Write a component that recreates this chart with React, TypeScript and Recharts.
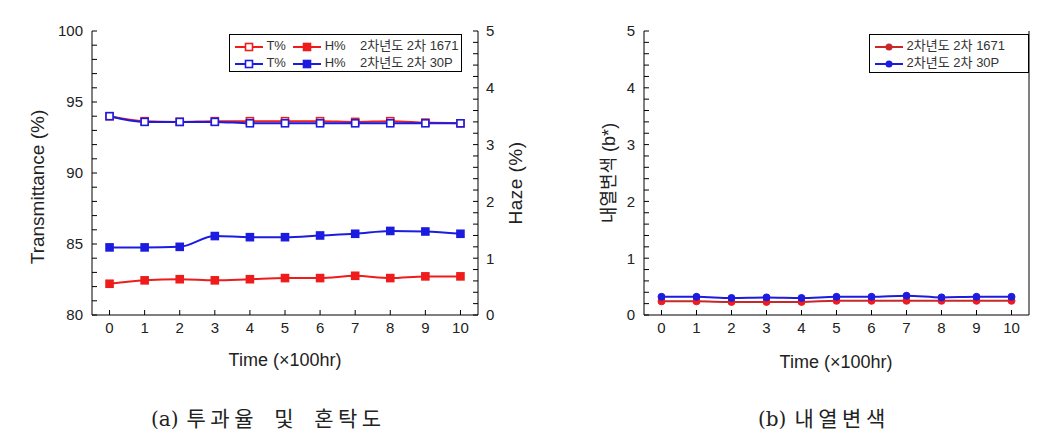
import { LineChart, Line, XAxis, YAxis } from "recharts";

// time in units of 100 hr
const times = [0, 1, 2, 3, 4, 5, 6, 7, 8, 9, 10];

// (a) transmittance (%) and haze (%)
const trans1671 = [94.0, 93.65, 93.6, 93.65, 93.65, 93.65, 93.65, 93.6, 93.65, 93.55, 93.5];
const trans30P = [94.0, 93.6, 93.6, 93.6, 93.5, 93.5, 93.5, 93.5, 93.5, 93.5, 93.5];
const haze1671 = [0.55, 0.61, 0.63, 0.61, 0.63, 0.65, 0.65, 0.69, 0.65, 0.68, 0.68];
const haze30P = [1.19, 1.19, 1.2, 1.39, 1.37, 1.37, 1.4, 1.43, 1.48, 1.47, 1.43];

// (b) heat discoloration (b*)
const color1671 = [0.24, 0.24, 0.23, 0.23, 0.23, 0.25, 0.25, 0.25, 0.25, 0.25, 0.25];
const color30P = [0.32, 0.32, 0.3, 0.31, 0.3, 0.32, 0.32, 0.34, 0.31, 0.32, 0.32];

const transTicks = Array.from({ length: 21 }, (_, i) => 80 + i);
const fiveTicks = Array.from({ length: 26 }, (_, i) => i / 5);

const leftData = times.map((t, i) => ({
  t,
  tRed: trans1671[i],
  tBlue: trans30P[i],
  hRed: haze1671[i],
  hBlue: haze30P[i],
}));
const rightData = times.map((t, i) => ({ t, red: color1671[i], blue: color30P[i] }));

const RED = "#ee1c1c";
const BLUE = "#1c1ce0";
const FONT = "'Liberation Sans', Arial, sans-serif";
const KFONT = "'Liberation Sans', 'Noto Sans CJK KR', sans-serif";
const SERIF = "'DejaVu Serif', 'Noto Sans CJK KR', serif";

const majorOnly = (step: number) => (v: number) =>
  Math.abs(v / step - Math.round(v / step)) < 1e-6 ? String(Math.round(v)) : "";

const squareDot = (stroke: string, fill: string) => (props: any) => {
  const { cx, cy, index } = props;
  if (cx == null || cy == null) return <g key={`e-${index}`} />;
  return (
    <rect key={`sq-${index}`} x={cx - 3.5} y={cy - 3.5} width={7} height={7}
      fill={fill} stroke={stroke} strokeWidth={1.6} />
  );
};

const tickStyle = { fill: "#222", fontSize: 15, fontFamily: FONT };

const LegendSwatch = ({ color, shape, filled }: { color: string; shape: "sq" | "dot"; filled: boolean }) => (
  <svg width={28} height={10} style={{ verticalAlign: "middle" }}>
    <line x1={0} y1={5} x2={28} y2={5} stroke={color} strokeWidth={2} />
    {shape === "sq" ? (
      <rect x={10.5} y={1.5} width={7} height={7} fill={filled ? color : "#fff"} stroke={color} strokeWidth={1.6} />
    ) : (
      <circle cx={14} cy={5} r={3.5} fill={color} />
    )}
  </svg>
);

const AxisTitle = ({ x, y, text, rotate, size = 18, spacing = 0 }: any) => (
  <div style={{
    position: "absolute", left: x, top: y, whiteSpace: "nowrap",
    transform: `translate(-50%, -50%)${rotate ? " rotate(-90deg)" : ""}`,
    fontFamily: KFONT, fontSize: size, color: "#222", letterSpacing: spacing, lineHeight: 1,
  }}>{text}</div>
);

const captionStyle = {
  position: "absolute" as const, top: 402, fontFamily: SERIF, fontSize: 20, color: "#222",
  whiteSpace: "pre" as const,
};
const hangulStyle = { fontSize: 21, letterSpacing: 4.5, wordSpacing: 5, marginLeft: 8 };

export default function App() {
  return (
    <div style={{ position: "absolute", left: 0, top: 0, width: 1050, height: 441, background: "#fff", overflow: "hidden" }}>
      {/* (a) transmittance & haze */}
      <div style={{ position: "absolute", left: 0, top: 0 }}>
        <LineChart width={540} height={380} data={leftData} margin={{ top: 31, right: 0, left: 0, bottom: 0 }}>
          <XAxis xAxisId="b" dataKey="t" type="number" domain={[-0.5, 10.5]} ticks={times} interval={0}
            tickSize={-5} tickMargin={12} height={65} stroke="#000" tick={tickStyle} />
          <XAxis xAxisId="top" orientation="top" dataKey="t" type="number" domain={[-0.5, 10.5]}
            tick={false} tickLine={false} height={0} stroke="#000" />
          <YAxis yAxisId="T" type="number" domain={[80, 100]} ticks={transTicks} interval={0}
            tickFormatter={majorOnly(5)} tickSize={-5} tickMargin={14} width={92} stroke="#000" tick={tickStyle} />
          <YAxis yAxisId="H" orientation="right" type="number" domain={[0, 5]} ticks={fiveTicks} interval={0}
            tickFormatter={majorOnly(1)} tickSize={-5} tickMargin={13} width={62} stroke="#000" tick={tickStyle} />
          <Line xAxisId="b" yAxisId="H" type="monotone" dataKey="hRed" stroke={RED} strokeWidth={2}
            dot={squareDot(RED, RED)} isAnimationActive={false} />
          <Line xAxisId="b" yAxisId="H" type="monotone" dataKey="hBlue" stroke={BLUE} strokeWidth={2}
            dot={squareDot(BLUE, BLUE)} isAnimationActive={false} />
          <Line xAxisId="b" yAxisId="T" type="monotone" dataKey="tRed" stroke={RED} strokeWidth={2}
            dot={squareDot(RED, "#fff")} isAnimationActive={false} />
          <Line xAxisId="b" yAxisId="T" type="monotone" dataKey="tBlue" stroke={BLUE} strokeWidth={2}
            dot={squareDot(BLUE, "#fff")} isAnimationActive={false} />
        </LineChart>
      </div>

      {/* (b) heat discoloration */}
      <div style={{ position: "absolute", left: 540, top: 0 }}>
        <LineChart width={510} height={380} data={rightData} margin={{ top: 31, right: 0, left: 0, bottom: 0 }}>
          <XAxis xAxisId="b" dataKey="t" type="number" domain={[-0.5, 10.5]} ticks={times} interval={0}
            tickSize={-5} tickMargin={12} height={65} stroke="#000" tick={tickStyle} />
          <XAxis xAxisId="top" orientation="top" dataKey="t" type="number" domain={[-0.5, 10.5]}
            tick={false} tickLine={false} height={0} stroke="#000" />
          <YAxis yAxisId="L" type="number" domain={[0, 5]} ticks={fiveTicks} interval={0}
            tickFormatter={majorOnly(1)} tickSize={-5} tickMargin={14} width={104} stroke="#000" tick={tickStyle} />
          <YAxis yAxisId="R" orientation="right" type="number" domain={[0, 5]}
            tick={false} tickLine={false} width={21} stroke="#000" />
          <Line xAxisId="b" yAxisId="L" type="monotone" dataKey="red" stroke="#c82828" strokeWidth={2}
            dot={{ r: 3.5, fill: RED, stroke: RED, strokeWidth: 1 }} isAnimationActive={false} />
          <Line xAxisId="b" yAxisId="L" type="monotone" dataKey="blue" stroke={BLUE} strokeWidth={2}
            dot={{ r: 3.5, fill: BLUE, stroke: BLUE, strokeWidth: 1 }} isAnimationActive={false} />
        </LineChart>
      </div>

      {/* legends */}
      <div style={{
        position: "absolute", left: 229, top: 34, width: 233, height: 38, boxSizing: "border-box",
        border: "1px solid #000", fontFamily: KFONT, fontSize: 13, color: "#333", lineHeight: "17px", padding: "2px 0 0 5px",
      }}>
        <div><LegendSwatch color={RED} shape="sq" filled={false} /> T%&nbsp;&nbsp;<LegendSwatch color={RED} shape="sq" filled /> H%&nbsp;&nbsp;&nbsp;&nbsp;2차년도 2차 1671</div>
        <div><LegendSwatch color={BLUE} shape="sq" filled={false} /> T%&nbsp;&nbsp;<LegendSwatch color={BLUE} shape="sq" filled /> H%&nbsp;&nbsp;&nbsp;&nbsp;2차년도 2차 30P</div>
      </div>
      <div style={{
        position: "absolute", left: 869, top: 34, width: 160, height: 39, boxSizing: "border-box",
        border: "1px solid #000", fontFamily: KFONT, fontSize: 13, color: "#333", lineHeight: "17px", padding: "2px 0 0 5px",
      }}>
        <div><LegendSwatch color="#c82828" shape="dot" filled /> 2차년도 2차 1671</div>
        <div><LegendSwatch color={BLUE} shape="dot" filled /> 2차년도 2차 30P</div>
      </div>

      {/* axis titles */}
      <AxisTitle x={37} y={187} text="Transmittance (%)" rotate size={19} />
      <AxisTitle x={515} y={183} text="Haze (%)" rotate size={19} spacing={0.5} />
      <AxisTitle x={609} y={173} text="내열변색 (b*)" rotate size={18} />
      <AxisTitle x={285} y={360} text="Time (×100hr)" size={18} />
      <AxisTitle x={836} y={362} text="Time (×100hr)" size={18} />

      {/* captions */}
      <div style={{ ...captionStyle, left: 151 }}>(a)<span style={hangulStyle}>투과율 및 혼탁도</span></div>
      <div style={{ ...captionStyle, left: 758 }}>(b)<span style={hangulStyle}>내열변색</span></div>
    </div>
  );
}
